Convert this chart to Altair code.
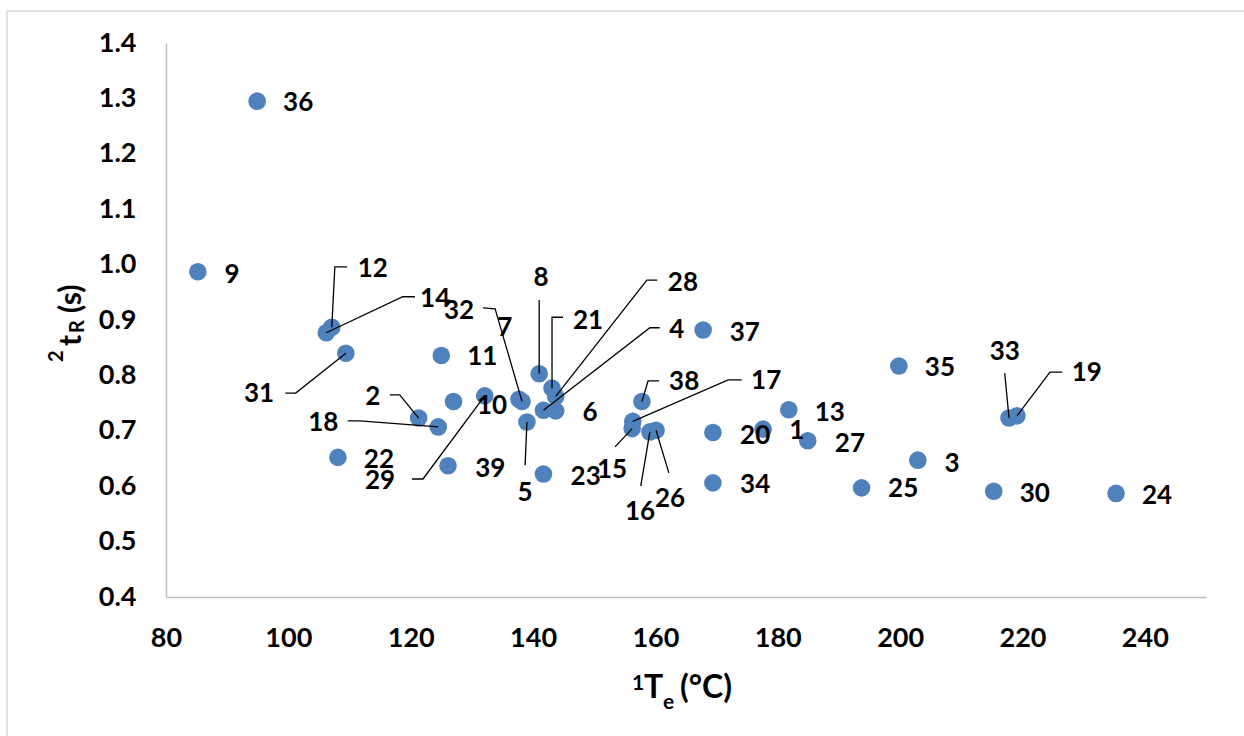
import altair as alt
import pandas as pd

# Compound numbers and their retention data
compound = list(range(1, 40))
te = [177.6, 121.3, 202.9, 141.7, 139.0, 143.7, 137.7, 141.0, 85.2, 127.0,
      125.0, 107.1, 181.8, 106.2, 156.2, 159.1, 156.3, 124.5, 219.1, 169.4,
      143.1, 108.1, 141.7, 235.3, 193.7, 160.1, 184.9, 143.7, 132.1, 215.3,
      109.4, 138.2, 217.8, 169.4, 199.8, 94.9, 167.8, 157.8, 126.1]
tr = [0.703, 0.723, 0.647, 0.737, 0.716, 0.736, 0.757, 0.803, 0.987, 0.753,
      0.836, 0.887, 0.738, 0.877, 0.704, 0.698, 0.717, 0.707, 0.727, 0.697,
      0.777, 0.652, 0.622, 0.587, 0.597, 0.701, 0.682, 0.762, 0.763, 0.591,
      0.840, 0.753, 0.723, 0.606, 0.817, 1.295, 0.882, 0.753, 0.637]

# Where each number label sits (data units)
label_te = [183.1, 113.8, 208.5, 163.5, 138.7, 149.3, 135.4, 141.3, 90.8, 133.3,
            131.7, 113.8, 188.5, 124.0, 152.9, 157.5, 178.1, 105.7, 230.5, 176.3,
            149.0, 114.8, 148.6, 242.0, 200.5, 162.4, 191.8, 164.5, 115.0, 222.0,
            95.2, 127.9, 217.1, 176.3, 206.5, 101.6, 174.6, 164.7, 133.0]
label_tr = [0.700, 0.761, 0.640, 0.882, 0.588, 0.732, 0.886, 0.976, 0.981, 0.745,
            0.833, 0.992, 0.732, 0.938, 0.629, 0.553, 0.790, 0.714, 0.804, 0.691,
            0.898, 0.647, 0.617, 0.582, 0.595, 0.577, 0.676, 0.967, 0.609, 0.586,
            0.766, 0.916, 0.842, 0.602, 0.813, 1.292, 0.877, 0.788, 0.631]

# Leader lines: label end -> elbow -> point
leader_id = [12, 14, 31, 2, 18, 29, 32, 8, 21, 28, 4, 5, 38, 17, 15, 16, 26, 33, 19]
leader_start_te = [109.6, 120.7, 99.5, 116.6, 109.7, 120.2, 131.8, 141.0, 144.9, 160.3,
                   160.7, 138.7, 160.6, 174.1, 153.4, 157.6, 162.2, 217.1, 226.5]
leader_start_tr = [0.996, 0.942, 0.768, 0.765, 0.718, 0.613, 0.922, 0.936, 0.905, 0.972,
                   0.886, 0.638, 0.790, 0.792, 0.671, 0.600, 0.624, 0.804, 0.806]
leader_elbow_te = [107.6, 118.7, 101.2, 118.2, 111.7, 122.0, 133.8, 141.0, 143.1, 158.6,
                   159.1, 138.7, 158.8, 171.9, 153.4, 157.6, 162.2, 217.1, 224.5]
leader_elbow_tr = [0.996, 0.942, 0.768, 0.765, 0.718, 0.613, 0.920, 0.936, 0.905, 0.972,
                   0.886, 0.638, 0.790, 0.792, 0.671, 0.600, 0.624, 0.804, 0.806]

x_ticks = [80, 100, 120, 140, 160, 180, 200, 220, 240]
y_ticks = [0.4, 0.5, 0.6, 0.7, 0.8, 0.9, 1.0, 1.1, 1.2, 1.3, 1.4]

points = pd.DataFrame({
    "id": compound, "te": te, "tr": tr,
    "lx": label_te, "ly": label_tr,
    "label": [str(c) for c in compound],
})

rows = []
for k, cid in enumerate(leader_id):
    i = compound.index(cid)
    rows.append({"id": cid, "step": 0, "te": leader_start_te[k], "tr": leader_start_tr[k]})
    rows.append({"id": cid, "step": 1, "te": leader_elbow_te[k], "tr": leader_elbow_tr[k]})
    rows.append({"id": cid, "step": 2, "te": te[i], "tr": tr[i]})
leaders = pd.DataFrame(rows)

FONT = "Lato"
x_scale = alt.Scale(domain=[80, 250], nice=False, zero=False)
y_scale = alt.Scale(domain=[0.4, 1.4], nice=False, zero=False)

axis_common = dict(title=None, grid=False, ticks=False, domainColor="#bfbfbf",
                   domainWidth=1.5, labelFont=FONT, labelFontWeight="bold",
                   labelFontSize=27, labelColor="black", labelFlush=False)
x_axis = alt.Axis(values=x_ticks, labelPadding=28, **axis_common)
y_axis = alt.Axis(values=y_ticks, format=".1f", labelPadding=30, **axis_common)

frame = alt.Chart(pd.DataFrame({"a": [0]})).mark_rect(
    fill="white", fillOpacity=0, stroke="#d9d9d9", strokeWidth=1.5
).encode(x=alt.value(-159), x2=alt.value(1100), y=alt.value(-32), y2=alt.value(720))

dots = alt.Chart(points).mark_circle(size=310, color="#4f81bd", opacity=1).encode(
    x=alt.X("te:Q", scale=x_scale, axis=x_axis),
    y=alt.Y("tr:Q", scale=y_scale, axis=y_axis),
)

lines = alt.Chart(leaders).mark_line(color="black", strokeWidth=1.3).encode(
    x=alt.X("te:Q", scale=x_scale, axis=x_axis),
    y=alt.Y("tr:Q", scale=y_scale, axis=y_axis),
    detail="id:N",
    order="step:Q",
)

labels = alt.Chart(points).mark_text(
    font=FONT, fontWeight="bold", fontSize=26, color="black",
    align="center", baseline="middle"
).encode(
    x=alt.X("lx:Q", scale=x_scale, axis=x_axis),
    y=alt.Y("ly:Q", scale=y_scale, axis=y_axis),
    text="label:N",
)


def piece(s, x, y, size, angle=0):
    return alt.Chart(pd.DataFrame({"s": [s]})).mark_text(
        font=FONT, fontWeight="bold", fontSize=size, color="black",
        align="left", baseline="alphabetic", angle=angle
    ).encode(x=alt.value(x), y=alt.value(y), text="s:N")


# x-axis title: superscript 1, T, subscript e, (°C)
x_title = [
    piece("1", 466, 647, 21),
    piece("T", 478, 655, 32),
    piece("e", 497, 666, 21),
    piece("(°C)", 514, 655, 32),
]
# y-axis title, rotated: superscript 2, t, subscript R, (s)
y_title = [
    piece("2", -103, 319, 20, 270),
    piece("t", -85, 303, 30, 270),
    piece("R", -82, 290, 20, 270),
    piece("(s)", -85, 270, 30, 270),
]

chart = alt.layer(frame, dots, lines, labels, *x_title, *y_title).properties(
    width=1040, height=554,
    autosize=alt.AutoSizeParams(type="none"),
    padding={"left": 166, "top": 43, "right": 38, "bottom": 139},
    background="white",
).configure_view(strokeWidth=0)

chart.save("out.html", embed_options={"renderer": "svg", "actions": False})
